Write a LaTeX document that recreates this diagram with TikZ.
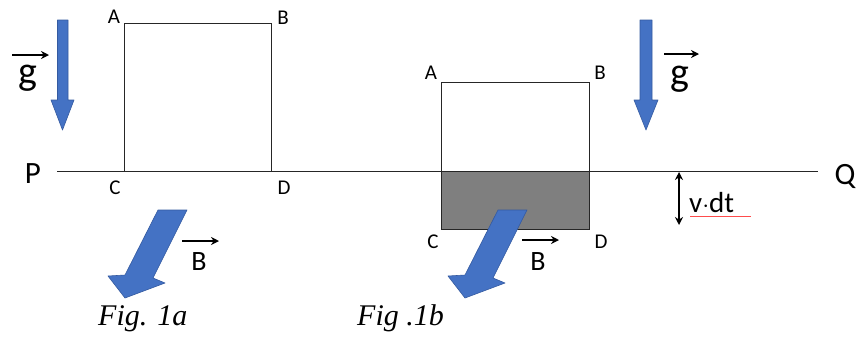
\documentclass[tikz,border=0pt]{standalone}
\usepackage{fontspec}
\setmainfont{Liberation Serif}
\newfontfamily\lab{Carlito}
\usetikzlibrary{arrows.meta}
\definecolor{arrblue}{RGB}{68,114,196}
\definecolor{arredge}{RGB}{52,90,160}
\definecolor{darkfill}{RGB}{127,127,127}
\begin{document}
\begin{tikzpicture}[x=1pt,y=-1pt,
  lbl/.style={font=\lab\fontsize{21}{21}\selectfont, inner sep=0pt},
  big/.style={font=\lab\fontsize{31}{31}\selectfont, inner sep=0pt},
  vec/.style={font=\lab\fontsize{28}{28}\selectfont, inner sep=0pt},
  gee/.style={font=\lab\fontsize{40}{40}\selectfont, inner sep=0pt},
  captext/.style={font=\itshape\fontsize{30}{30}\selectfont, inner sep=0pt, anchor=base west},
  frame/.style={draw=black!85, line width=1pt},
  fat/.style={fill=arrblue, draw=arredge, line width=0.6pt, line join=round},
  vecarrow/.style={draw=black, line width=1.3pt, -{Stealth[length=8pt,width=8pt]}},
  dbl/.style={draw=black, line width=1.2pt, {Stealth[length=8pt,width=8pt]}-{Stealth[length=8pt,width=8pt]}}
]
\useasboundingbox (0,0) rectangle (862,338);

% line P--Q
\node[big] (P) at (33,174) {P};
\node[big] (Q) at (845,176) {Q};
\draw[black!85, line width=1pt] (57,171) coordinate (lineL) -- (818,171) coordinate (lineR);

% Fig 1a square
\draw[frame] (124,23) coordinate (a1) rectangle (271,171) coordinate (d1);
\node[lbl] (A1) at (114,17) {A};
\node[lbl] (B1) at (283,18) {B};
\node[lbl] (C1) at (115,188) {C};
\node[lbl] (D1) at (284,188) {D};

% Fig 1b rectangle
\fill[darkfill] (441,171) rectangle (589,229);
\draw[frame] (441,82) coordinate (a2) rectangle (589,229) coordinate (d2);
\draw[frame] (441,171) -- (589,171);
\node[lbl] (A2) at (431,73) {A};
\node[lbl] (B2) at (600,73) {B};
\node[lbl] (C2) at (433,242) {C};
\node[lbl] (D2) at (601,242) {D};

% gravity arrows
\draw[fat] (57.5,20) -- (68,20) -- (68,100) -- (74,100) -- (62.5,130) -- (51,100) -- (57.5,100) -- cycle;
\draw[fat] (640,20) -- (652,20) -- (652,100) -- (658,100) -- (646,130) -- (634,100) -- (640,100) -- cycle;

% g labels
\node[gee] (g1) at (28,78) {g};
\coordinate (g1s) at (12,55); \coordinate (g1e) at (49,55);
\draw[vecarrow] (g1s) -- (g1e);
\node[gee] (g2) at (680,79) {g};
\coordinate (g2s) at (664,54); \coordinate (g2e) at (699,54);
\draw[vecarrow] (g2s) -- (g2e);

% B fat arrows
\draw[fat] (158,210) -- (187,210) -- (153,278) -- (165,283) -- (125,298) -- (108,276) -- (125,275) -- cycle;
\draw[fat] (498,210) -- (527,210) -- (493,278) -- (505,283) -- (465,298) -- (448,276) -- (465,275) -- cycle;

% B labels
\node[vec] (Bv1) at (199,262) {B};
\coordinate (b1s) at (182,241); \coordinate (b1e) at (219,241);
\draw[vecarrow] (b1s) -- (b1e);
\node[vec] (Bv2) at (538,262) {B};
\coordinate (b2s) at (522,240); \coordinate (b2e) at (559,240);
\draw[vecarrow] (b2s) -- (b2e);

% v dt
\coordinate (vt) at (679,172); \coordinate (vb) at (679,225);
\draw[dbl] (vt) -- (vb);
\node[font=\lab\fontsize{29}{29}\selectfont, inner sep=0pt, anchor=base west] (vdt) at (689,212) {v$\cdot$dt};
\draw[red!70, line width=0.6pt] (690,216) -- (751,216);

% captions
\node[captext] (f1) at (98,325) {Fig. 1a};
\node[captext] (f2) at (357,325) {Fig .1b};
\end{tikzpicture}
\end{document}
